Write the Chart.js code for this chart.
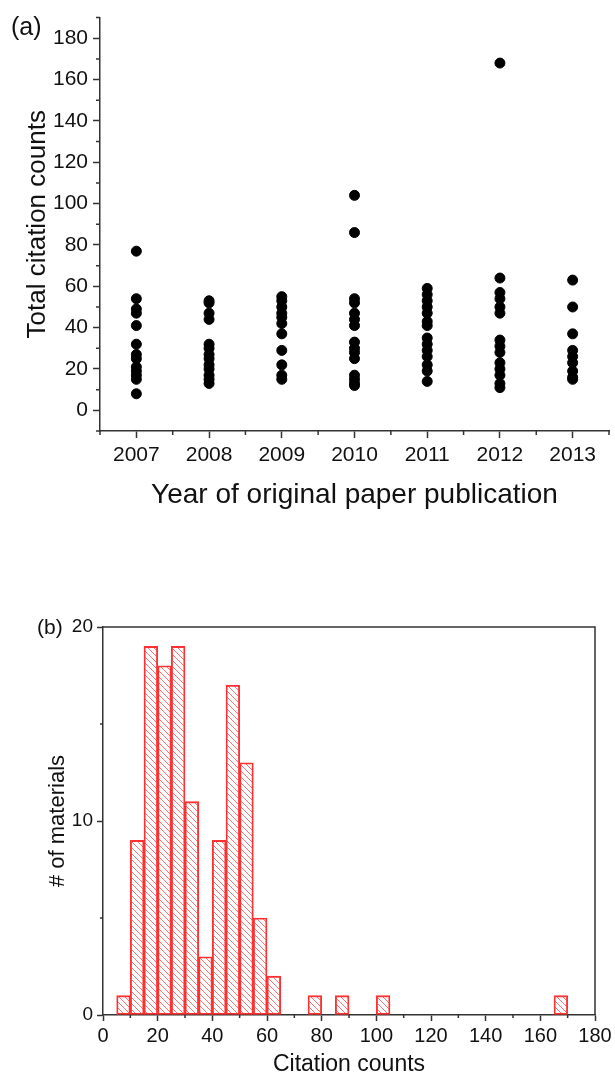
<!DOCTYPE html>
<html>
<head>
<meta charset="utf-8">
<script src="https://cdn.jsdelivr.net/npm/chart.js@4.4.0/dist/chart.umd.min.js"></script>
<style>
  html, body { margin: 0; padding: 0; background: #fff; }
  body { width: 615px; height: 1078px; position: relative; overflow: hidden; font-family: "Liberation Sans", Arial, sans-serif; }
  .box { position: absolute; left: 0; width: 615px; }
  #boxA { top: 0; height: 540px; }
  #boxB { top: 560px; height: 518px; }
  .tag { position: absolute; color: #111; line-height: 1; }
</style>
</head>
<body>
<div class="box" id="boxA"><canvas id="scatterChart"></canvas></div>
<div class="box" id="boxB"><canvas id="histChart"></canvas></div>
<div class="tag" style="left:11px;top:14px;font-size:25px">(a)</div>
<div class="tag" style="left:37px;top:616px;font-size:21px">(b)</div>
<script>
// (a) citation counts per publication year
const years = [2007, 2008, 2009, 2010, 2011, 2012, 2013];
const cites2007 = [77, 54, 49, 47, 41, 32, 27, 25, 21, 19, 17, 15, 8];
const cites2008 = [53, 52, 47, 44, 32, 30, 27, 25, 22, 20, 17, 15, 13];
const cites2009 = [55, 53, 50, 47, 45, 42, 37, 29, 22, 17, 15];
const cites2010 = [104, 86, 54, 52, 47, 44, 41, 33, 30, 28, 25, 17, 15, 13, 12];
const cites2011 = [59, 56, 53, 50, 47, 43, 41, 35, 32, 29, 26, 22, 19, 14];
const cites2012 = [168, 64, 57, 54, 50, 47, 34, 31, 28, 23, 20, 17, 13, 11];
const cites2013 = [63, 50, 37, 29, 26, 23, 19, 16, 15];
const citesByYear = [cites2007, cites2008, cites2009, cites2010, cites2011, cites2012, cites2013];
const yTicksA = [0, 20, 40, 60, 80, 100, 120, 140, 160, 180];

// (b) histogram, bins of width 5
const binWidth = 5;
const binStarts = [5, 10, 15, 20, 25, 30, 35, 40, 45, 50, 55, 60, 75, 85, 100, 165];
const binCounts = [1, 9, 19, 18, 19, 11, 3, 9, 17, 13, 5, 2, 1, 1, 1, 1];
const xTicksB = [0, 20, 40, 60, 80, 100, 120, 140, 160, 180];
const yTicksB = [0, 10, 20];

const axisColor = '#333';
const textColor = '#111';
const fontFamily = '"Liberation Sans", Arial, sans-serif';

Chart.defaults.font.family = fontFamily;
Chart.defaults.color = textColor;

// small ticks between the labelled ones
const minorTicks = {
    id: 'minorTicks',
    afterDraw(chart, args, opts) {
        const ctx = chart.ctx;
        const { left, bottom } = chart.chartArea;
        ctx.save();
        ctx.strokeStyle = axisColor;
        ctx.lineWidth = 1.5;
        ctx.beginPath();
        (opts.x || []).forEach(v => {
            const px = chart.scales.x.getPixelForValue(v);
            ctx.moveTo(px, bottom);
            ctx.lineTo(px, bottom + opts.len);
        });
        (opts.y || []).forEach(v => {
            const py = chart.scales.y.getPixelForValue(v);
            ctx.moveTo(left, py);
            ctx.lineTo(left - opts.len, py);
        });
        ctx.stroke();
        ctx.restore();
    }
};

const frameBox = {
    id: 'frameBox',
    afterDraw(chart) {
        const { left, top, right, bottom } = chart.chartArea;
        const ctx = chart.ctx;
        ctx.save();
        ctx.strokeStyle = axisColor;
        ctx.lineWidth = 1.5;
        ctx.beginPath();
        ctx.moveTo(left, top);
        ctx.lineTo(right, top);
        ctx.lineTo(right, bottom);
        ctx.stroke();
        ctx.restore();
    }
};

const halfSteps = (from, to, step) => {
    const out = [];
    for (let v = from; v <= to + 1e-9; v += step) out.push(v);
    return out;
};

// Scatter chart (a)
const scatterPoints = [];
years.forEach((yr, i) => citesByYear[i].forEach(c => scatterPoints.push({ x: yr, y: c })));

new Chart(document.getElementById('scatterChart'), {
    type: 'scatter',
    data: {
        datasets: [{
            data: scatterPoints,
            backgroundColor: '#000',
            borderColor: '#000',
            pointRadius: 5,
            pointHoverRadius: 5
        }]
    },
    options: {
        responsive: true,
        maintainAspectRatio: false,
        animation: false,
        layout: { padding: { left: 0, right: 3, top: 15, bottom: 0 } },
        plugins: {
            legend: { display: false },
            tooltip: { enabled: false },
            minorTicks: { len: 4, x: halfSteps(2006.5, 2013.5, 1), y: halfSteps(-10, 190, 20) }
        },
        scales: {
            x: {
                type: 'linear',
                min: 2006.5,
                max: 2013.5,
                afterBuildTicks: s => { s.ticks = years.map(v => ({ value: v })); },
                afterFit: s => { s.height = 109; },
                ticks: { callback: v => String(v), font: { size: 21 }, color: textColor, padding: 5, maxRotation: 0, autoSkip: false },
                grid: { drawOnChartArea: false, tickLength: 7, tickColor: axisColor, tickWidth: 1.5 },
                border: { color: axisColor, width: 1.5 },
                title: { display: true, text: 'Year of original paper publication', font: { size: 28 }, color: textColor, padding: { top: 0, bottom: 28 } }
            },
            y: {
                min: -10,
                max: 190,
                afterBuildTicks: s => { s.ticks = yTicksA.map(v => ({ value: v })); },
                afterFit: s => { s.width = 100; },
                ticks: { font: { size: 21 }, color: textColor, padding: 5, autoSkip: false },
                grid: { drawOnChartArea: false, tickLength: 7, tickColor: axisColor, tickWidth: 1.5 },
                border: { color: axisColor, width: 1.5 },
                title: { display: true, text: 'Total citation counts', font: { size: 26 }, color: textColor, padding: { top: 22, bottom: 0 } }
            }
        }
    },
    plugins: [minorTicks]
});

// Hatch pattern for histogram bars
const makeHatch = () => {
    const size = 6;
    const c = document.createElement('canvas');
    c.width = size;
    c.height = size;
    const g = c.getContext('2d');
    g.strokeStyle = 'rgba(255, 60, 60, 0.8)';
    g.lineWidth = 0.9;
    g.beginPath();
    g.moveTo(0, 0); g.lineTo(size, size);
    g.moveTo(-1, size - 1); g.lineTo(1, size + 1);
    g.moveTo(size - 1, -1); g.lineTo(size + 1, 1);
    g.stroke();
    return g.createPattern(c, 'repeat');
};

// Histogram (b)
const histData = binStarts.map((b, i) => ({ x: b + binWidth / 2, y: binCounts[i] }));

new Chart(document.getElementById('histChart'), {
    type: 'bar',
    data: {
        datasets: [{
            data: histData,
            backgroundColor: makeHatch(),
            borderColor: '#ff3030',
            borderWidth: 1.2,
            borderSkipped: false,
            barPercentage: 1,
            categoryPercentage: 1
        }]
    },
    options: {
        responsive: true,
        maintainAspectRatio: false,
        animation: false,
        layout: { padding: { left: 0, right: 20, top: 67, bottom: 0 } },
        plugins: {
            legend: { display: false },
            tooltip: { enabled: false },
            minorTicks: { len: 3, x: halfSteps(10, 170, 20), y: [5, 15] }
        },
        scales: {
            x: {
                type: 'linear',
                min: 0,
                max: 180,
                offset: false,
                afterBuildTicks: s => { s.ticks = xTicksB.map(v => ({ value: v })); },
                afterFit: s => { s.height = 63; },
                ticks: { font: { size: 20 }, color: textColor, padding: 3, maxRotation: 0, autoSkip: false },
                grid: { drawOnChartArea: false, offset: false, tickLength: 6, tickColor: axisColor, tickWidth: 1.5 },
                border: { color: axisColor, width: 1.5 },
                title: { display: true, text: 'Citation counts', font: { size: 23 }, color: textColor, padding: { top: 0, bottom: 0 } }
            },
            y: {
                min: 0,
                max: 20,
                afterBuildTicks: s => { s.ticks = yTicksB.map(v => ({ value: v })); },
                afterFit: s => { s.width = 103; },
                ticks: { font: { size: 19 }, color: textColor, padding: 4, autoSkip: false },
                grid: { drawOnChartArea: false, tickLength: 6, tickColor: axisColor, tickWidth: 1.5 },
                border: { color: axisColor, width: 1.5 },
                title: { display: true, text: '# of materials', font: { size: 22 }, color: textColor, padding: { top: 45, bottom: 0 } }
            }
        }
    },
    plugins: [minorTicks, frameBox]
});
</script>
</body>
</html>
